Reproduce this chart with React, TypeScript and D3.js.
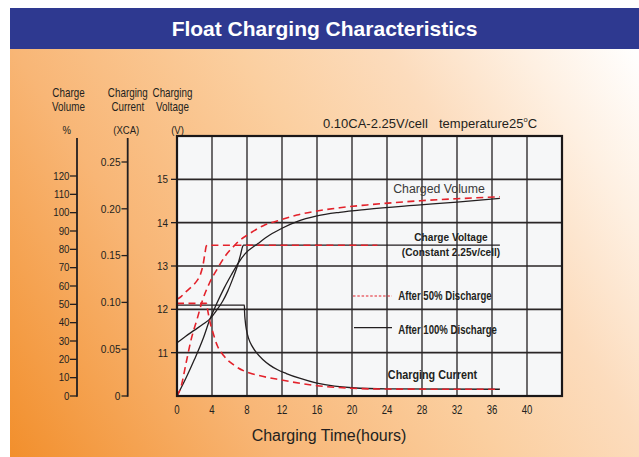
import React from 'react';
import * as d3 from 'd3';

// ---------- data ----------
const hourTicks = [0, 4, 8, 12, 16, 20, 24, 28, 32, 36, 40];
const gridHours = [4, 8, 12, 16, 20, 24, 28, 32, 36, 40];
const voltTicks = [11, 12, 13, 14, 15];
const volumeTicks = [0, 10, 20, 30, 40, 50, 60, 70, 80, 90, 100, 110, 120];
const currentTicks = [0, 0.05, 0.1, 0.15, 0.2, 0.25];
const currentTickLabels = ['0', '0.05', '0.10', '0.15', '0.20', '0.25'];

// [hours, %]
const volume100: [number, number][] = [
  [0, 0], [1, 9.5], [2, 20], [3, 31.5], [3.77, 42], [4.5, 50], [5.4, 59], [6.2, 66],
  [7.0, 72.5], [7.77, 77.5], [9.3, 83.3], [10.6, 87.8], [12, 91.5], [13.7, 95.1],
  [16, 98.2], [18.6, 100.2], [21.7, 101.8], [27.8, 104.2], [32, 105.8], [36.9, 107.8],
];
const volume50: [number, number][] = [
  [0, 0], [0.46, 5], [1.03, 17.8], [1.6, 30.5], [2.3, 42], [2.93, 52.4], [3.7, 61.5],
  [4.65, 69.7], [5.6, 76.9], [6.55, 82], [7.0, 84.2], [8.34, 88.7], [9.86, 92.9],
  [11.8, 96], [13.7, 98.7], [16, 100.9], [18.6, 102.7], [21.7, 104.2], [27.8, 106.5],
  [32, 107.6], [36.9, 108.7],
];
// [hours, V]
const voltage100: [number, number][] = [
  [0, 11.23], [1, 11.38], [2, 11.52], [3, 11.66], [3.77, 11.78], [4.5, 11.97],
  [5.2, 12.18], [5.8, 12.42], [6.4, 12.72], [6.9, 13.0], [7.25, 13.25], [7.5, 13.45],
  [7.6, 13.48], [36.9, 13.48],
];
const voltage50: [number, number][] = [
  [0, 12.23], [0.5, 12.3], [1.1, 12.42], [1.7, 12.53], [2.25, 12.65], [2.7, 12.82],
  [3.0, 13.05], [3.2, 13.3], [3.35, 13.46], [3.5, 13.48], [22.9, 13.48],
];
// [hours, CA]
const current100: [number, number][] = [
  [0, 0.097], [7.7, 0.097], [7.72, 0.09], [7.8, 0.08], [7.95, 0.07], [8.2, 0.061],
  [8.6, 0.053], [9.1, 0.046], [9.8, 0.039], [10.6, 0.033], [11.5, 0.028], [12.5, 0.024],
  [14, 0.019], [16, 0.0137], [18, 0.0105], [20, 0.0088], [24, 0.0076], [36.9, 0.0072],
];
const current50: [number, number][] = [
  [0, 0.099], [3.35, 0.099], [3.5, 0.092], [3.7, 0.082], [4.1, 0.068], [4.6, 0.054],
  [5.35, 0.043], [6.5, 0.033], [8.3, 0.0245], [9.3, 0.022], [11.8, 0.0173], [16, 0.011],
  [20, 0.0083], [24, 0.0074], [36.9, 0.0072],
];

// ---------- layout ----------
const W = 639;
const H = 457;
const FONT = "'Liberation Sans', Arial, Helvetica, sans-serif";
const INK = '#231f20';
const RED = '#e3222b';

const x = d3.scaleLinear().domain([0, 44]).range([177, 562]);
const yV = d3.scaleLinear().domain([10, 16]).range([396, 136]);
const yP = d3.scaleLinear().domain([0, 120]).range([396, 176]);
const yC = d3.scaleLinear().domain([0, 0.25]).range([396, 162]);

const mkLine = (ys: d3.ScaleLinear<number, number>) =>
  d3.line<[number, number]>().x((d) => x(d[0])).y((d) => ys(d[1])).curve(d3.curveMonotoneX);

type TP = {
  x: number; y: number; size: number; sx?: number; anchor?: string; weight?: string;
  fill?: string; children: React.ReactNode;
};
function T({ x, y, size, sx = 1, anchor = 'start', weight = 'normal', fill = INK, children }: TP) {
  return (
    <text
      transform={`translate(${x},${y}) scale(${sx},1)`}
      fontSize={size}
      textAnchor={anchor as any}
      fontWeight={weight}
      fill={fill}
      fontFamily={FONT}
    >
      {children}
    </text>
  );
}

export default function App() {
  const [x0, x1] = x.range();
  const yTop = yV(16);
  const yBot = yV(10);
  const redStyle = { fill: 'none', stroke: RED, strokeWidth: 1.6, strokeDasharray: '7,4.5' };
  const blackStyle = { fill: 'none', stroke: INK, strokeWidth: 1.3 };

  return (
    <svg width={W} height={H} style={{ position: 'absolute', left: 0, top: 0 }} xmlns="http://www.w3.org/2000/svg">
      <defs>
        <linearGradient id="bg" gradientUnits="userSpaceOnUse" x1={10} y1={457} x2={639} y2={49}>
          <stop offset="0" stopColor="#f28f2c" />
          <stop offset="0.3" stopColor="#f8b676" />
          <stop offset="0.55" stopColor="#fbcfa0" />
          <stop offset="0.72" stopColor="#fcdcbd" />
          <stop offset="0.87" stopColor="#fef0e2" />
          <stop offset="1" stopColor="#ffffff" />
        </linearGradient>
      </defs>
      <rect x={0} y={0} width={W} height={H} fill="#ffffff" />
      <rect x={10} y={49} width={629} height={408} fill="url(#bg)" />
      <rect x={10} y={8} width={629} height={41} fill="#2e3990" />
      <text x={324.5} y={36} fontSize={21} fontWeight="bold" fill="#ffffff" textAnchor="middle" fontFamily={FONT}>
        Float Charging Characteristics
      </text>

      {/* axis headers */}
      <T x={68.5} y={97} size={12} sx={0.82} anchor="middle">Charge</T>
      <T x={68.5} y={110.5} size={12} sx={0.82} anchor="middle">Volume</T>
      <T x={127.8} y={97} size={12} sx={0.82} anchor="middle">Charging</T>
      <T x={127.8} y={110.5} size={12} sx={0.82} anchor="middle">Current</T>
      <T x={172.5} y={97} size={12} sx={0.82} anchor="middle">Charging</T>
      <T x={172.5} y={110.5} size={12} sx={0.82} anchor="middle">Voltage</T>
      <T x={66.7} y={134} size={11.5} sx={0.83} anchor="middle">%</T>
      <T x={126.3} y={134} size={11.5} sx={0.83} anchor="middle">(XCA)</T>
      <T x={177.5} y={134} size={11.5} sx={0.83} anchor="middle">(V)</T>

      {/* volume axis */}
      <line x1={77} x2={77} y1={138} y2={yP(0) + 0.8} stroke={INK} strokeWidth={1.8} />
      {volumeTicks.map((t) => (
        <g key={'p' + t}>
          <line x1={70} x2={77} y1={yP(t)} y2={yP(t)} stroke={INK} strokeWidth={1.3} />
          <T x={69.5} y={yP(t) + 3.7} size={10.8} sx={0.9} anchor="end">{String(t)}</T>
        </g>
      ))}

      {/* current axis */}
      <line x1={127.7} x2={127.7} y1={138} y2={yC(0) + 0.8} stroke={INK} strokeWidth={1.8} />
      {currentTicks.map((t, i) => (
        <g key={'c' + t}>
          <line x1={121.5} x2={127.7} y1={yC(t)} y2={yC(t)} stroke={INK} strokeWidth={1.3} />
          <T x={120.5} y={yC(t) + 3.8} size={11} sx={0.92} anchor="end">{currentTickLabels[i]}</T>
        </g>
      ))}

      {/* plot area */}
      <rect x={x0} y={yTop} width={x1 - x0} height={yBot - yTop} fill="#f6f7f8" />
      {gridHours.map((h) => (
        <line key={'gx' + h} x1={x(h)} x2={x(h)} y1={yTop} y2={yBot} stroke={INK} strokeWidth={1.3} />
      ))}
      {voltTicks.map((v) => (
        <g key={'gy' + v}>
          <line x1={x0} x2={x1} y1={yV(v)} y2={yV(v)} stroke="#2a2627" strokeWidth={1.6} />
          <line x1={x0 - 6} x2={x0} y1={yV(v)} y2={yV(v)} stroke={INK} strokeWidth={1.3} />
          <T x={168} y={yV(v) + 4} size={11} sx={0.9} anchor="end">{String(v)}</T>
        </g>
      ))}

      {/* curves */}
      <path d={mkLine(yC)(current100) || ''} style={blackStyle} />
      <path d={mkLine(yV)(voltage100) || ''} style={blackStyle} />
      <path d={mkLine(yP)(volume100) || ''} style={blackStyle} />
      <path d={mkLine(yC)(current50) || ''} style={redStyle} />
      <path d={mkLine(yV)(voltage50) || ''} style={redStyle} />
      <path d={mkLine(yP)(volume50) || ''} style={redStyle} />

      <rect x={x0} y={yTop} width={x1 - x0} height={yBot - yTop} fill="none" stroke="#1a1718" strokeWidth={2.2} />

      {/* x tick labels */}
      {hourTicks.map((h) => (
        <T key={'xt' + h} x={x(h)} y={414} size={12} sx={0.8} anchor="middle">{String(h)}</T>
      ))}
      <text x={329} y={441} fontSize={16} fill={INK} textAnchor="middle" fontFamily={FONT}>
        Charging Time(hours)
      </text>

      {/* annotations */}
      <text x={323} y={127.5} fontSize={13} fill={INK} fontFamily={FONT}>0.10CA-2.25V/cell</text>
      <text x={439} y={127.5} fontSize={13} fill={INK} fontFamily={FONT}>
        temperature25
        <tspan fontSize={7.5} dy={-6}>o</tspan>
        <tspan dy={6}>C</tspan>
      </text>
      <text x={439} y={193} fontSize={12.3} fill="#3a3a3a" textAnchor="middle" fontFamily={FONT}>
        Charged Volume
      </text>
      <T x={451} y={241} size={11.5} sx={0.88} anchor="middle" weight="bold">Charge Voltage</T>
      <T x={451} y={255.5} size={11.5} sx={0.88} anchor="middle" weight="bold">(Constant 2.25v/cell)</T>
      <T x={432.5} y={379} size={12} sx={0.9} anchor="middle" weight="bold">Charging Current</T>

      {/* legend */}
      <line x1={353} x2={392} y1={296} y2={296} stroke={RED} strokeWidth={1.2} strokeDasharray="2.5,1.8" />
      <T x={398.3} y={299.8} size={12} sx={0.8} weight="bold">After 50% Discharge</T>
      <line x1={354} x2={392} y1={327.7} y2={327.7} stroke={INK} strokeWidth={1.3} />
      <T x={398.3} y={334} size={12} sx={0.8} weight="bold">After 100% Discharge</T>
    </svg>
  );
}
